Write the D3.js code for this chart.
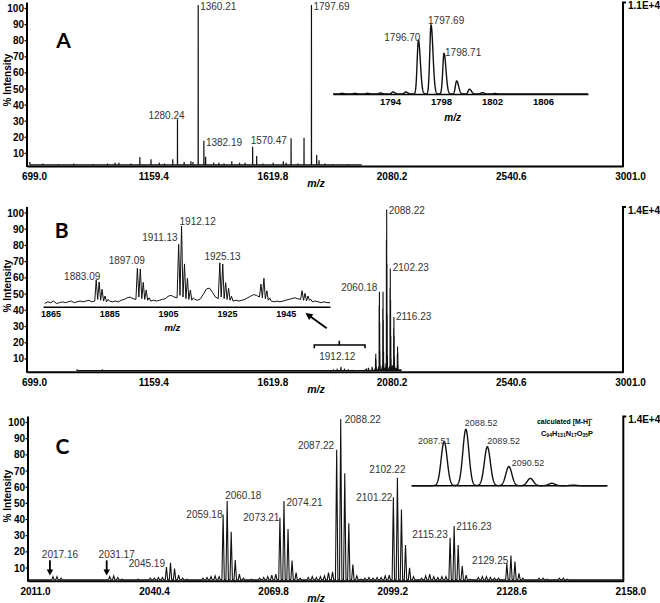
<!DOCTYPE html>
<html><head><meta charset="utf-8">
<script src="https://cdn.jsdelivr.net/npm/d3@7"></script>
<style>
html,body{margin:0;padding:0;background:#fff;}
svg{display:block;font-family:"Liberation Sans",Arial,Helvetica,sans-serif;}
</style></head><body>
<svg id="chart" width="660" height="603"></svg>
<script>
// ================= DATA =================
const yTicks = [10,20,30,40,50,60,70,80,90,100];
const xTicksWide = [699.0,1159.4,1619.8,2080.2,2540.6,3001.0];
const xTicksC = [2011.0,2040.4,2069.8,2099.2,2128.6,2158.0];
const insetATicks = [1794,1798,1802,1806];
const insetBTicks = [1865,1885,1905,1925,1945];
const maxLabels = ["1.1E+4","1.4E+4","1.4E+4"];
const panelLetters = ["A","B","C"];

// Panel A: full-range spectrum [m/z, % intensity]
const peaksA = [
[710,2.5],[760,1.5],[820,1.2],[880,1.5],[955,1.2],[1010,1.5],[1039,2],[1054,2],[1100,1.5],
[1135,5.6],[1178,4.2],[1210,2],[1230,1.5],[1262,4.2],[1280.24,29],[1306,2.5],[1332,3],[1340,2.5],
[1360.21,100],[1382.19,15.7],[1389,5.8],[1420,2],[1440,2],[1460,1.5],[1490,3],[1520,2],[1541,2],
[1570.47,12],[1586,6.2],[1610,1.5],[1650,2],[1689,3],[1700,2],[1719,17.2],[1745,1.5],[1769,17.6],
[1797.69,100],[1818,6.8],[1827,3.5],[1850,1.5],[1880,1.2],[1940,1.2],[1990,1]
];
const labelsA = [
{t:"1280.24",mz:1280.24,v:29},{t:"1360.21",mz:1360.21,v:100},{t:"1382.19",mz:1382.19,v:15.7},
{t:"1570.47",mz:1570.47,v:12},{t:"1797.69",mz:1797.69,v:100}
];
// Panel A inset (relative %)
const insetAPeaks = [[1790.7,1],[1791.7,1],[1792.7,1],[1793.7,1.5],[1794.7,3],[1795.7,3],
[1796.70,78],[1797.69,100],[1798.71,59],[1799.70,19],[1800.70,7],[1801.70,2],[1802.7,0.7]];
const insetALabels = [{t:"1796.70",mz:1796.70,v:78},{t:"1797.69",mz:1797.69,v:100},{t:"1798.71",mz:1798.71,v:59}];

// Panel C (also shown in B): [m/z, % intensity]
const peaksC = [
[2017.16,2.5],[2018.16,2.5],[2019.16,1.5],
[2031.17,2.5],[2032.17,3],[2033.17,2],[2034.2,1],
[2038.2,1],[2041.2,1.5],[2042.2,1.5],[2043.2,2],[2044.2,2],
[2045.19,8.5],[2046.19,11],[2047.19,7.5],[2048.2,3.5],[2049.2,1.5],[2050.2,1],
[2054.2,1.5],[2055.2,2],[2056.2,2.5],[2057.2,3],[2058.2,2.5],
[2059.18,41],[2060.18,49.3],[2061.18,30.3],[2062.18,12.8],[2063.2,4],[2064.2,1.5],
[2066.2,1],[2068.2,1.5],[2069.2,2],[2070.2,2.5],[2071.2,3.5],[2072.2,4],
[2073.21,39],[2074.21,49.3],[2075.21,32],[2076.21,12.5],[2077.2,5],[2078.2,1.5],
[2080.2,2],[2081.2,2.5],[2082.2,2],[2083.2,2.5],[2084.2,3],[2085.2,5],[2086.2,5.5],
[2087.22,81],[2088.22,100],[2089.22,66.5],[2090.22,35.5],[2091.22,10],[2092.2,3],[2093.2,1],
[2094.2,1.5],[2095.2,2],[2096.2,1.5],[2097.2,2],[2098.2,2],[2099.2,3],[2100.2,3.5],
[2101.22,51.6],[2102.22,63.7],[2103.22,44],[2104.22,22],[2105.22,8],[2106.2,2.5],
[2108.2,1.5],[2109.2,3],[2110.2,4],[2111.2,2.5],[2112.2,2],[2113.2,2.5],[2114.2,2.5],
[2115.23,26.6],[2116.23,33.8],[2117.23,22],[2118.23,9],[2119.2,3.5],[2120.2,1],
[2122.2,2],[2123.2,2.5],[2124.2,2.5],[2125.2,2],[2126.2,1.5],[2127.2,1.5],
[2129.25,10.7],[2130.25,15.5],[2131.25,11.8],[2132.25,4.5],[2133.2,1.5],
[2137.2,1.5],[2138.2,1.5],[2139.2,1],[2142.2,1.5],[2143.2,1.5],[2144.2,1]
];
const labelsC = [
{t:"2045.19",mz:2045.19,v:8.5},{t:"2059.18",mz:2059.18,v:41},{t:"2060.18",mz:2060.18,v:49.3},
{t:"2073.21",mz:2073.21,v:39},{t:"2074.21",mz:2074.21,v:49.3},{t:"2087.22",mz:2087.22,v:81},
{t:"2088.22",mz:2088.22,v:100},{t:"2101.22",mz:2101.22,v:51.6},{t:"2102.22",mz:2102.22,v:63.7},
{t:"2115.23",mz:2115.23,v:26.6},{t:"2116.23",mz:2116.23,v:33.8},{t:"2129.25",mz:2129.25,v:10.7}
];
const arrowLabelsC = [{t:"2017.16",mz:2017.16},{t:"2031.17",mz:2031.17}];
// Panel C inset: calculated isotope pattern (relative %)
const insetCPeaks = [[2087.51,78],[2088.52,100],[2089.52,69],[2090.52,34],[2091.52,13],[2092.52,4.3],[2093.52,1]];
const insetCLabels = [{t:"2087.51",mz:2087.51,v:78},{t:"2088.52",mz:2088.52,v:100},{t:"2089.52",mz:2089.52,v:69},{t:"2090.52",mz:2090.52,v:34}];
const calcTitle = "calculated [M-H]\u207B";
const formulaParts = [["C",""],["94","s"],["H",""],["131","s"],["N",""],["17","s"],["O",""],["35","s"],["P",""]];

// Panel B: low-mass peaks (in addition to the panel C region)
const peaksBExtra = [[892,1.5],[990,1.5],[1274,1],[1394,1],[1820,1],[1883.09,1.5],[1897.09,2],
[1911.13,2.5],[1912.12,3],[1925.13,2],[1940,1.5],[1955,1.2],[2005,1.5],[2010,2]];
const labelsB = [{t:"2088.22",mz:2088.22,v:100},{t:"2102.23",mz:2102.23,v:64},{t:"2060.18",mz:2060.18,v:49.5},{t:"2116.23",mz:2116.23,v:34}];
// Panel B inset (relative %)
const insetBPeaks = [
[1883.09,33],[1884.09,30.6],[1885.09,21.6],[1886.1,13.3],[1887.1,9],
[1897.09,47.6],[1898.09,46.7],[1899.09,30.2],[1900.1,20.7],[1901.1,11],
[1911.13,77.3],[1912.12,100],[1913.12,53],[1914.12,35.2],[1915.12,20.7],[1916.1,11],
[1925.13,54.5],[1926.13,52.9],[1927.13,29.7],[1928.13,22.8],[1929.1,13],
[1939.13,28],[1940.13,35.2],[1941.13,19.8],[1942.1,10.8],
[1953.1,19.8],[1954.1,16.6],[1955.1,13.3],[1956.1,9]
];
const insetBNoiseStart = 1865.6; // noise level read every 1 m/z unit
const insetBNoise = [4,6,5,7,4,5,6,5,6,7,5,6,7,6,7,8,6,7,
9,8,7,6,7,6,7,6,8,9,11,12,10,9,
12,10,9,8,7,8,7,8,9,10,13,14,12,11,
14,12,10,9,8,9,8,10,16,22,23,18,12,
10,12,10,9,8,7,8,7,8,9,11,13,15,14,12,
11,10,8,7,6,7,6,7,8,9,10,11,10,
9,8,7,8,6,7,6,5,6,5,5];
const insetBLabels = [{t:"1883.09",mz:1883.09,v:33},{t:"1897.09",mz:1897.09,v:47.6},{t:"1911.13",mz:1911.13,v:77.3},{t:"1912.12",mz:1912.12,v:100},{t:"1925.13",mz:1925.13,v:54.5}];
const bracketLabel = "1912.12";

// ================= LAYOUT =================
const panels = [
 {left:27, right:623, y100:5, base:166, domain:[699,3001], ticks:xTicksWide, yLab:80, letter:[63.5,39.5]},
 {left:27, right:623, y100:209.5, base:371.7, domain:[699,3001], ticks:xTicksWide, yLab:286, letter:[61.7,229]},
 {left:28, right:623.3, y100:419, base:580.7, domain:[2011,2158], ticks:xTicksC, yLab:496, letter:[62.5,445.8]}
];
const layoutA = [["middle",-11,-4],["start",2,1.5],["start",2,2],["start",-2,-6],["start",2,1.5]];
const layoutInA = [["end",2,-3],["start",-3,-5],["start",1,-1]];
const layoutB = [["start",2,1],["start",2.4,0],["end",-2,-4],["start",2,0]];
const layoutInB = [["middle",-14,-4],["middle",-10.6,-8],["end",-1,-7],["start",-2,-5],["middle",2.7,-6]];
const layoutC = [["end",-1.5,-3],["end",-0.6,0],["start",-2,-5],["end",-0.5,0],["start",2.5,2],["end",-2.5,-4],
 ["start",4,0],["end",-1,0],["middle",-10,-7.7],["end",-2.4,-2.7],["start",2,0],["end",1.4,-2.7]];
const layoutInC = [["middle",-10,-1],["start",-1,-6],["start",0,-5.7],["start",3,-3.4]];

const svg = d3.select("#chart");
const INK = "#111", LAB = "#333";

function stickPath(peaks, x, y, hw, base0){
  const pts = [];
  peaks.slice().sort((a,b)=>a[0]-b[0]).forEach(([m,v])=>{pts.push([m-hw,base0],[m,v],[m+hw,base0]);});
  return d3.line().x(d=>x(d[0])).y(d=>y(d[1]))(pts);
}
function profilePath(peaks, x, y, sl, sr, dom, step){
  const pts = d3.range(dom[0], dom[1]+step/2, step).map(m=>[m, d3.sum(peaks, p=>{
    const s = m < p[0] ? sl : sr; return p[1]*Math.exp(-0.5*((m-p[0])/s)**2);})]);
  return d3.line().x(d=>x(d[0])).y(d=>y(d[1]))(pts);
}
function labels(g, data, layout, x, y, size){
  g.selectAll(null).data(data).join("text")
   .attr("x",(d,i)=>x(d.mz)+layout[i][1]).attr("y",(d,i)=>y(d.v)+layout[i][2])
   .attr("text-anchor",(d,i)=>layout[i][0]).attr("dominant-baseline","central")
   .attr("font-size",size).attr("fill",LAB).text(d=>d.t);
}
function arrow(g, x1,y1,x2,y2, hl, hw){
  const dx=x2-x1, dy=y2-y1, L=Math.hypot(dx,dy), ux=dx/L, uy=dy/L;
  const bx=x2-ux*hl, by=y2-uy*hl;
  g.append("line").attr("x1",x1).attr("y1",y1).attr("x2",bx+ux*1).attr("y2",by+uy*1).attr("stroke","#000").attr("stroke-width",1.8);
  g.append("path").attr("d",`M${x2},${y2}L${bx-uy*hw},${by+ux*hw}L${bx+uy*hw},${by-ux*hw}Z`).attr("fill","#000");
}

const scales = panels.map((p,i)=>{
  const x = d3.scaleLinear().domain(p.domain).range([p.left,p.right]);
  const y = d3.scaleLinear().domain([0,100]).range([p.base,p.y100]);
  const g = svg.append("g");
  const ax = g.append("g").attr("transform",`translate(0,${p.base})`)
    .call(d3.axisBottom(x).tickValues(p.ticks).tickFormat(d3.format(".1f")).tickSize(0).tickSizeOuter(0));
  ax.select(".domain").attr("stroke","#000").attr("stroke-width",2);
  ax.selectAll("text").attr("y",10.5).attr("dy","0.35em").attr("dx",7)
    .attr("font-size",10).attr("font-weight","bold").attr("font-family","'Liberation Sans',Arial,sans-serif").attr("fill","#000");
  const ay = g.append("g").attr("transform",`translate(${p.left},0)`)
    .call(d3.axisLeft(y).tickValues(yTicks).tickSize(2.5).tickPadding(0.5).tickSizeOuter(0));
  ay.select(".domain").remove();
  ay.selectAll(".tick").attr("transform",d=>`translate(0,${y(d)+3.5})`);
  ay.selectAll(".tick line").attr("stroke","#000").attr("stroke-width",1.2);
  ay.selectAll("text").attr("dy","0.35em").attr("font-size",10).attr("font-weight","bold")
    .attr("font-family","'Liberation Sans',Arial,sans-serif").attr("fill","#000");
  g.append("line").attr("x1",p.left).attr("x2",p.left).attr("y1",p.base+1).attr("y2",y(101.5)).attr("stroke","#000").attr("stroke-width",2);
  g.append("path").attr("d",`M${p.right},${p.base+1}V${y(101.5)}h3`).attr("fill","none").attr("stroke","#000").attr("stroke-width",2);
  g.append("text").attr("x",p.right+5).attr("y",y(101.5)+3.2).attr("dominant-baseline","central")
    .attr("font-size",10).attr("font-weight","bold").text(maxLabels[i]);
  g.append("text").attr("x",316).attr("y",p.base+17).attr("text-anchor","middle").attr("dominant-baseline","central")
    .attr("font-size",10.5).attr("font-weight","bold").attr("font-style","italic").text("m/z");
  g.append("text").attr("transform",`translate(7.5,${p.yLab}) rotate(-90)`).attr("text-anchor","middle").attr("dominant-baseline","central")
    .attr("font-size",10).attr("font-weight","bold").text("% Intensity");
  g.append("text").attr("x",p.letter[0]).attr("y",p.letter[1]).attr("text-anchor","middle").attr("dominant-baseline","central")
    .attr("font-family","Lato,'Open Sans',sans-serif").attr("font-weight",700).attr("font-size",21).text(panelLetters[i]);
  return {x,y,g};
});

// ---------- Panel A ----------
{
  const {x,y,g} = scales[0];
  g.append("path").attr("d",stickPath(peaksA,x,y,0.3,0.7)).attr("fill","none").attr("stroke",INK).attr("stroke-width",1.2);
  labels(g, labelsA, layoutA, x, y, 10);
  const xi = d3.scaleLinear().domain([1790,1810]).range([333,588]);
  const yi = d3.scaleLinear().domain([0,100]).range([94,25]);
  const ia = g.append("g").attr("transform","translate(0,94)")
    .call(d3.axisBottom(xi).tickValues(insetATicks).tickFormat(d3.format("d")).tickSize(0).tickSizeOuter(0));
  ia.select(".domain").attr("stroke","#000").attr("stroke-width",1.6);
  ia.selectAll("text").attr("y",8).attr("dy","0.35em").attr("dx",6).attr("font-size",9.5).attr("font-weight","bold")
    .attr("font-family","'Liberation Sans',Arial,sans-serif").attr("fill","#000");
  g.append("path").attr("d",profilePath(insetAPeaks,xi,yi,0.1,0.15,[1790,1810],0.01)).attr("fill","none").attr("stroke",INK).attr("stroke-width",1.4);
  labels(g, insetALabels, layoutInA, xi, yi, 10);
  g.append("text").attr("x",452.7).attr("y",117).attr("text-anchor","middle").attr("dominant-baseline","central")
    .attr("font-size",10).attr("font-weight","bold").attr("font-style","italic").text("m/z");
}

// ---------- Panel B ----------
{
  const {x,y,g} = scales[1];
  g.append("path").attr("d",stickPath(peaksBExtra.concat(peaksC),x,y,0.3,0.7)).attr("fill","none").attr("stroke",INK).attr("stroke-width",1.1);
  labels(g, labelsB, layoutB, x, y, 10);
  const xi = d3.scaleLinear().domain([1865,1962.6]).range([43,330]);
  const yi = d3.scaleLinear().domain([0,100]).range([306.7,226]);
  const ib = g.append("g").attr("transform","translate(0,306.7)")
    .call(d3.axisBottom(xi).tickValues(insetBTicks).tickFormat(d3.format("d")).tickSize(0).tickSizeOuter(0));
  ib.select(".domain").attr("stroke","#000").attr("stroke-width",1.6);
  ib.selectAll("text").attr("y",7.3).attr("dy","0.35em").attr("dx",7.5).attr("font-size",9).attr("font-weight","bold")
    .attr("font-family","'Liberation Sans',Arial,sans-serif").attr("fill","#000");
  const tracePts = insetBNoise.map((v,i)=>[insetBNoiseStart+i, v]).concat(insetBPeaks).sort((a,b)=>a[0]-b[0]);
  g.append("path").attr("d",d3.line().x(d=>xi(d[0])).y(d=>yi(d[1]))(tracePts)).attr("fill","none").attr("stroke",INK).attr("stroke-width",1);
  labels(g, insetBLabels, layoutInB, xi, yi, 10);
  g.append("text").attr("x",172.3).attr("y",327.3).attr("text-anchor","middle").attr("dominant-baseline","central")
    .attr("font-size",9.5).attr("font-weight","bold").attr("font-style","italic").text("m/z");
  arrow(g, 326.7, 328.3, 305.5, 313, 7, 3.6);
  g.append("path").attr("d","M314.3,348.3V345H365V348.3M339.3,345V340.7").attr("fill","none").attr("stroke","#000").attr("stroke-width",1.6);
  g.append("text").attr("x",337.3).attr("y",356.7).attr("text-anchor","middle").attr("dominant-baseline","central")
    .attr("font-size",10).attr("fill",LAB).text(bracketLabel);
}

// ---------- Panel C ----------
{
  const {x,y,g} = scales[2];
  g.append("path").attr("d",stickPath(peaksC.concat([[2011.5,0.5],[2157.5,0.5]]),x,y,0.3,0.5)).attr("fill","none").attr("stroke",INK).attr("stroke-width",1.1);
  labels(g, labelsC, layoutC, x, y, 10);
  arrowLabelsC.forEach(d=>{
    g.append("text").attr("x",x(d.mz)+7).attr("y",y(16.5)).attr("text-anchor","middle").attr("dominant-baseline","central")
      .attr("font-size",10).attr("fill",LAB).text(d.t);
    arrow(g, x(d.mz)-3, y(12.6), x(d.mz)-3, y(3.2), 6, 3.2);
  });
  const xi = d3.scaleLinear().domain([2086,2095.1]).range([411.7,607.3]);
  const yi = d3.scaleLinear().domain([0,100]).range([485.7,429.3]);
  g.append("line").attr("x1",xi(2086)).attr("x2",xi(2095.1)).attr("y1",yi(0)).attr("y2",yi(0)).attr("stroke","#000").attr("stroke-width",1.6);
  g.append("path").attr("d",profilePath(insetCPeaks,xi,yi,0.14,0.14,[2086,2095.1],0.01)).attr("fill","none").attr("stroke",INK).attr("stroke-width",1.4);
  labels(g, insetCLabels, layoutInC, xi, yi, 9);
  g.append("text").attr("x",565).attr("y",421.5).attr("text-anchor","middle").attr("dominant-baseline","central")
    .attr("font-size",8).attr("font-weight","bold").attr("textLength",56).attr("lengthAdjust","spacingAndGlyphs")
    .text(calcTitle);
  const t2 = g.append("text").attr("x",567).attr("y",433).attr("text-anchor","middle").attr("dominant-baseline","central")
    .attr("font-size",8).attr("font-weight","bold").attr("textLength",52).attr("lengthAdjust","spacingAndGlyphs");
  formulaParts.forEach(([s,k],i,arr)=>{
    const prev = i>0 ? arr[i-1][1] : "";
    let dy = 0; if(k==="s" && prev!=="s") dy = 2; if(k!=="s" && prev==="s") dy = -2;
    t2.append("tspan").attr("dy",dy).attr("font-size",k==="s"?5.5:8).text(s);
  });
}
</script>
</body></html>
